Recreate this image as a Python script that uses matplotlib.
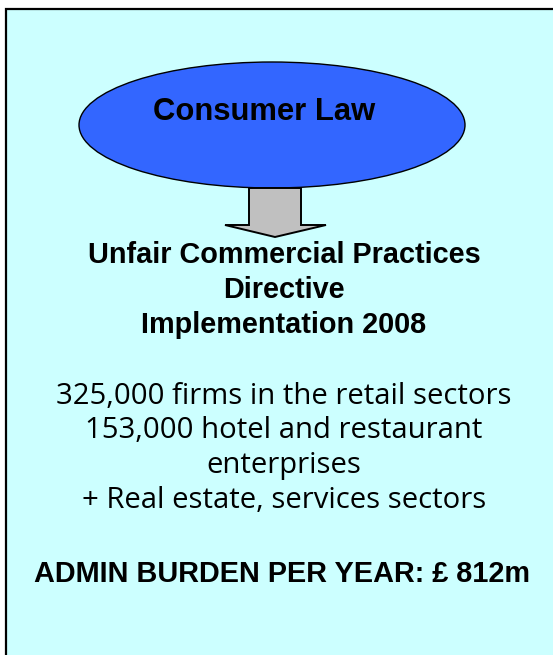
import matplotlib
matplotlib.use("Agg")
import matplotlib.pyplot as plt
from matplotlib.patches import Ellipse, Rectangle, Polygon

# ---- content ----
header = "Consumer Law"
title_lines = ["Unfair Commercial Practices", "Directive", "Implementation 2008"]
body_lines = ["325,000 firms in the retail sectors",
              "153,000 hotel and restaurant",
              "enterprises",
              "+ Real estate, services sectors"]
burden_line = "ADMIN BURDEN PER YEAR: £ 812m"

W, H = 553, 655
fig = plt.figure(figsize=(W / 100, H / 100), dpi=100)
ax = fig.add_axes([0, 0, 1, 1])
ax.set_xlim(0, W)
ax.set_ylim(H, 0)
ax.axis("off")
fig.patch.set_facecolor("white")

# box
ax.add_patch(Rectangle((6, 9), W + 20, H + 20, facecolor="#CCFFFF",
                       edgecolor="black", linewidth=1.6))

# ellipse
ax.add_patch(Ellipse((272, 125), 386, 126, facecolor="#3366FF",
                     edgecolor="black", linewidth=1.0))
ax.text(264, 120, header, ha="center", va="baseline", fontsize=22.3,
        family="Liberation Sans", weight="bold", color="black")

# arrow
arrow_pts = [(249, 188), (301, 188), (301, 225), (326, 225), (275, 237),
             (225, 225), (249, 225)]
ax.add_patch(Polygon(arrow_pts, closed=True, facecolor="#C0C0C0",
                     edgecolor="black", linewidth=1.4, joinstyle="miter"))

cx = 284
for txt, yb in zip(title_lines, [263, 298, 333]):
    ax.text(cx, yb, txt, ha="center", va="baseline", fontsize=20.8,
            family="Liberation Sans", weight="bold", color="black")

for txt, yb in zip(body_lines, [404, 438, 473, 508]):
    ax.text(cx, yb, txt, ha="center", va="baseline", fontsize=21.1,
            family="Open Sans", color="black")

ax.text(282, 582, burden_line, ha="center", va="baseline", fontsize=20.8,
        family="Liberation Sans", weight="bold", color="black")

fig.savefig("out.png", dpi=100, facecolor="white")
